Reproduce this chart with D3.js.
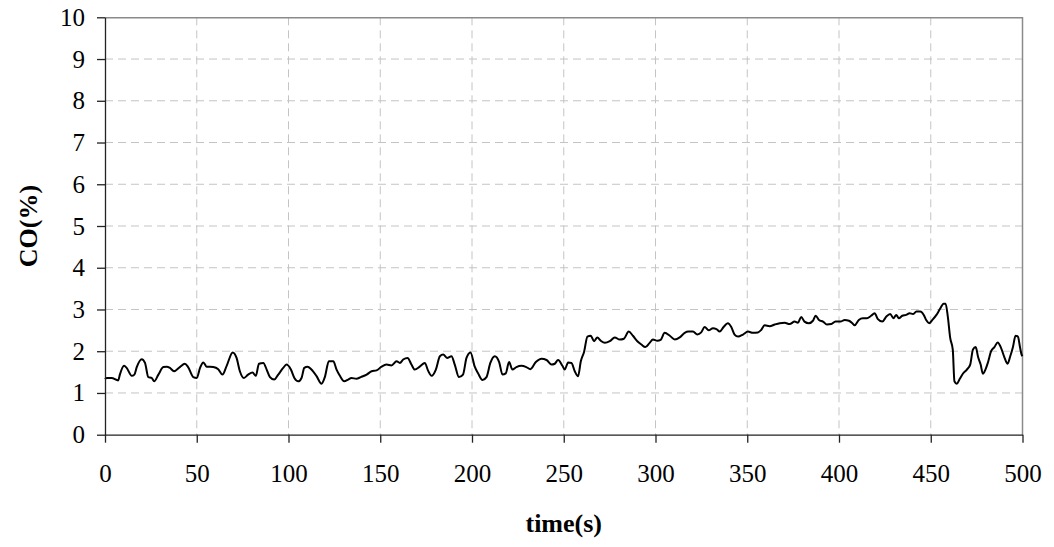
<!DOCTYPE html>
<html>
<head>
<meta charset="utf-8">
<script src="https://cdn.jsdelivr.net/npm/d3@7"></script>
<style>
  body { margin: 0; background: #fff; }
  svg text { font-family: "Liberation Serif", "Times New Roman", serif; fill: #000; }
</style>
</head>
<body>
<svg id="chart" width="1054" height="547"></svg>
<script>
// time (s)
const times = [
  0, 0.9, 3.6, 7.2, 8.1, 10.4, 11.8, 14.6, 16.0, 17.3, 20.0, 21.8, 23.6, 25.4, 26.8, 29.1,
  31.8, 33.6, 35.4, 37.6, 40.8, 43.5, 45.3, 48.1, 50.0, 51.8, 53.6, 55.4, 59.0, 61.7, 64.0,
  66.3, 69.6, 71.7, 73.5, 75.7, 78.0, 80.4, 82.2, 83.9, 86.3, 88.1, 89.9, 92.2, 94.4, 97.1,
  98.9, 101.3, 103.2, 105.3, 107.1, 108.6, 110.4, 112.5, 115.2, 118.0, 119.8, 122.0, 124.4,
  126.2, 128.0, 130.4, 132.5, 134.3, 137.0, 139.4, 142.6, 145.3, 148.0, 150.7, 153.4, 156.1,
  158.9, 160.7, 162.5, 164.9, 167.0, 168.8, 171.5, 174.3, 176.0, 178.0, 180.3, 182.5, 184.3,
  186.4, 188.8, 190.6, 192.9, 195.1, 197.0, 199.2, 201.5, 203.3, 205.7, 207.9, 210.0, 212.4,
  214.8, 216.6, 218.4, 220.2, 222.0, 224.2, 226.9, 229.6, 231.8, 234.8, 237.9, 240.6, 243.3,
  245.1, 246.9, 249.3, 250.5, 252.4, 254.2, 256.0, 257.8, 259.3, 261.1, 262.9, 264.7, 266.5,
  268.3, 270.2, 272.4, 275.1, 277.8, 280.5, 282.8, 285.4, 287.7, 290.1, 292.3, 294.5, 296.8,
  298.6, 301.0, 302.8, 305.0, 307.8, 310.5, 313.2, 315.9, 318.0, 320.4, 322.8, 324.9, 326.8,
  329.0, 331.3, 333.2, 335.0, 337.1, 339.4, 341.3, 343.1, 345.0, 347.7, 350.4, 353.1, 355.8,
  357.6, 359.5, 362.2, 365.0, 367.7, 370.4, 373.1, 375.8, 377.6, 379.4, 381.2, 383.6, 385.8,
  387.3, 389.1, 391.3, 393.4, 395.8, 398.1, 400.8, 403.1, 405.4, 407.3, 408.5, 410.8, 413.0,
  415.2, 417.5, 419.4, 421.2, 423.6, 425.8, 427.9, 429.7, 431.2, 432.6, 434.5, 436.6, 438.5,
  440.3, 442.2, 444.3, 446.2, 447.6, 449.1, 450.9, 453.1, 455.0, 457.0, 458.1, 459.3, 460.6,
  462.0, 462.9, 464.2, 465.7, 467.5, 469.7, 471.5, 473.0, 474.5, 475.8, 477.2, 478.4, 479.8,
  481.1, 482.9, 484.7, 486.5, 488.3, 490.1, 491.9, 493.2, 494.8, 496.2, 497.5, 498.7, 499.5, 500
];

// CO (%) at each time above
const coValues = [
  1.33, 1.36, 1.36, 1.30, 1.44, 1.65, 1.60, 1.41, 1.44, 1.62, 1.81, 1.72, 1.38, 1.36, 1.28, 1.44,
  1.62, 1.63, 1.60, 1.52, 1.62, 1.70, 1.62, 1.38, 1.36, 1.60, 1.73, 1.63, 1.62, 1.57, 1.44,
  1.65, 1.97, 1.84, 1.52, 1.36, 1.44, 1.49, 1.41, 1.70, 1.72, 1.56, 1.38, 1.32, 1.44, 1.60,
  1.68, 1.56, 1.36, 1.28, 1.36, 1.60, 1.63, 1.56, 1.41, 1.22, 1.38, 1.76, 1.76,
  1.56, 1.41, 1.28, 1.32, 1.36, 1.34, 1.38, 1.44, 1.52, 1.54, 1.63, 1.68, 1.66,
  1.76, 1.72, 1.80, 1.84, 1.68, 1.56, 1.63, 1.72, 1.54, 1.41, 1.56, 1.88, 1.92,
  1.84, 1.88, 1.68, 1.38, 1.44, 1.84, 1.97, 1.63, 1.47, 1.31, 1.38, 1.72, 1.88,
  1.74, 1.44, 1.47, 1.74, 1.56, 1.62, 1.65, 1.62, 1.57, 1.74, 1.82, 1.79, 1.68,
  1.70, 1.79, 1.65, 1.56, 1.73, 1.72, 1.52, 1.40, 1.76, 1.99, 2.35, 2.37, 2.24,
  2.33, 2.25, 2.20, 2.24, 2.33, 2.28, 2.30, 2.47, 2.37, 2.24, 2.16, 2.10, 2.20,
  2.28, 2.25, 2.27, 2.44, 2.37, 2.28, 2.33, 2.44, 2.47, 2.47, 2.40, 2.45, 2.58,
  2.50, 2.55, 2.53, 2.47, 2.58, 2.67, 2.58, 2.40, 2.35, 2.40, 2.47, 2.44, 2.45,
  2.51, 2.62, 2.60, 2.64, 2.67, 2.68, 2.65, 2.71, 2.68, 2.82, 2.71, 2.67, 2.73,
  2.85, 2.75, 2.71, 2.64, 2.65, 2.71, 2.71, 2.75, 2.73, 2.67, 2.62, 2.75, 2.79,
  2.79, 2.85, 2.91, 2.77, 2.71, 2.83, 2.89, 2.79, 2.87, 2.79, 2.85, 2.87, 2.91,
  2.89, 2.95, 2.95, 2.87, 2.74, 2.67, 2.75, 2.87, 3.01, 3.14, 3.14, 2.83, 2.32,
  2.04, 1.28, 1.22, 1.33, 1.46, 1.56, 1.68, 2.04, 2.10, 1.86, 1.68, 1.46, 1.56,
  1.72, 2.00, 2.10, 2.21, 2.08, 1.86, 1.70, 1.86, 2.10, 2.37, 2.35, 2.08, 1.92, 1.88
];

const xTicks = [0, 50, 100, 150, 200, 250, 300, 350, 400, 450, 500];
const yTicks = [0, 1, 2, 3, 4, 5, 6, 7, 8, 9, 10];
const xTitle = "time(s)";
const yTitle = "CO(%)";

const W = 1054, H = 547;
const margin = { top: 17.3, right: 31.5, bottom: 112.3, left: 105 };
const innerW = W - margin.left - margin.right;
const innerH = H - margin.top - margin.bottom;

const svg = d3.select("#chart");
const g = svg.append("g").attr("transform", `translate(${margin.left},${margin.top})`);

const x = d3.scaleLinear().domain([0, 500]).range([0, innerW]);
const y = d3.scaleLinear().domain([0, 10]).range([innerH, 0]);

// dashed grid
g.append("g")
  .selectAll("line")
  .data(yTicks.filter(d => d > 0 && d < 10))
  .join("line")
  .attr("x1", 0).attr("x2", innerW)
  .attr("y1", d => y(d)).attr("y2", d => y(d))
  .attr("stroke", "#c4c4c4").attr("stroke-width", 1)
  .attr("stroke-dasharray", "8,5");

g.append("g")
  .selectAll("line")
  .data(xTicks.filter(d => d > 0 && d < 500))
  .join("line")
  .attr("x1", d => x(d)).attr("x2", d => x(d))
  .attr("y1", 0).attr("y2", innerH)
  .attr("stroke", "#c4c4c4").attr("stroke-width", 1)
  .attr("stroke-dasharray", "8,5");

// grey frame on top and right
g.append("path")
  .attr("d", `M0,0.5H${innerW}V${innerH}`)
  .attr("fill", "none")
  .attr("stroke", "#8a8a8a")
  .attr("stroke-width", 1.5);

// the trace
const line = d3.line()
  .x((d, i) => x(times[i]))
  .y(d => y(d))
  .curve(d3.curveMonotoneX);

g.append("path")
  .datum(coValues)
  .attr("fill", "none")
  .attr("stroke", "#000")
  .attr("stroke-width", 2)
  .attr("stroke-linejoin", "round")
  .attr("d", line);

// axes
const xAxis = g.append("g")
  .attr("transform", `translate(0,${innerH})`)
  .call(d3.axisBottom(x).tickValues(xTicks).tickSize(8).tickPadding(22).tickSizeOuter(0));

const yAxis = g.append("g")
  .call(d3.axisLeft(y).tickValues(yTicks).tickSize(8).tickPadding(12).tickSizeOuter(0));

[xAxis, yAxis].forEach(a => {
  a.select(".domain").attr("stroke", "#222").attr("stroke-width", 1.3);
  a.selectAll(".tick line").attr("stroke", "#222").attr("stroke-width", 1.3);
  a.selectAll(".tick text")
    .attr("font-family", "Liberation Serif")
    .attr("font-size", 25)
    .attr("fill", "#000");
});

svg.append("text")
  .attr("x", margin.left + innerW / 2)
  .attr("y", 532)
  .attr("text-anchor", "middle")
  .attr("font-size", 26)
  .attr("font-weight", "bold")
  .text(xTitle);

svg.append("text")
  .attr("transform", `translate(37,${margin.top + innerH / 2}) rotate(-90)`)
  .attr("text-anchor", "middle")
  .attr("font-size", 26)
  .attr("font-weight", "bold")
  .text(yTitle);
</script>
</body>
</html>
